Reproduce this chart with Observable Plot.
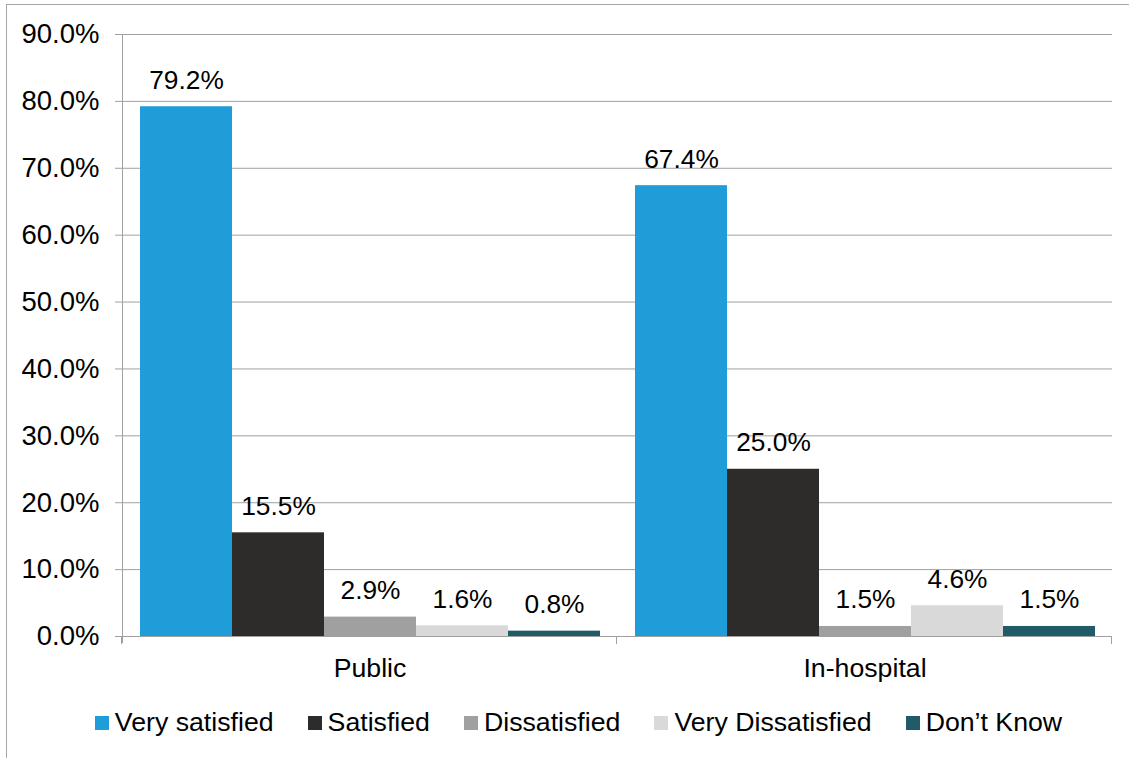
<!DOCTYPE html>
<html>
<head>
<meta charset="utf-8">
<script src="https://cdn.jsdelivr.net/npm/d3@7"></script>
<script src="https://cdn.jsdelivr.net/npm/@observablehq/plot@0.6"></script>
<style>
  html, body { margin: 0; padding: 0; background: #fff; }
  body { font-family: "Liberation Sans", Arial, sans-serif; }
  #wrap { position: relative; width: 1129px; height: 758px; overflow: hidden; }
  #border { position: absolute; left: 6px; top: 4px; width: 1200px; height: 800px;
            border-left: 1px solid #a6a6a6; border-top: 1px solid #a6a6a6; }
  #chart { position: absolute; left: 0; top: 0; }
  #legend { position: absolute; left: 14px; top: 707px; width: 1129px; display: flex;
            justify-content: center; align-items: center; gap: 34px;
            font-size: 26.7px; color: #000; }
  .item { display: flex; align-items: center; }
  .sw { width: 14px; height: 14px; margin-right: 6px; }
</style>
</head>
<body>
<div id="wrap">
  <div id="border"></div>
  <div id="chart"></div>
  <div id="legend"></div>
</div>
<script>
// Satisfaction survey results, by setting
const groups = ["Public", "In-hospital"];
const responses = ["Very satisfied", "Satisfied", "Dissatisfied", "Very Dissatisfied", "Don’t Know"];
const publicValues = [79.2, 15.5, 2.9, 1.6, 0.8];
const hospitalValues = [67.4, 25.0, 1.5, 4.6, 1.5];
const colors = ["#1f9dd9", "#2e2c2b", "#a0a0a0", "#d9d9d9", "#215a69"];
const yTicks = [0, 10, 20, 30, 40, 50, 60, 70, 80, 90];

const rows = [];
groups.forEach((g, gi) => {
  const vals = gi === 0 ? publicValues : hospitalValues;
  responses.forEach((r, i) => rows.push({group: g, response: r, value: vals[i]}));
});

const fmt = v => v.toFixed(1) + "%";

const plot = Plot.plot({
  width: 1129,
  height: 695,
  marginLeft: 121,
  marginRight: 17,
  marginTop: 34,
  marginBottom: 59,
  style: {fontFamily: "Liberation Sans, Arial, sans-serif", fontSize: "26px", color: "#000", background: "transparent"},
  fx: {domain: groups, padding: 0, label: null},
  x: {domain: responses, paddingInner: 0, paddingOuter: 0.187, axis: null},
  y: {domain: [0, 90], label: null},
  color: {domain: responses, range: colors},
  marks: [
    Plot.gridY(yTicks, {stroke: "#a0a0a0", strokeOpacity: 1, strokeWidth: 1}),
    Plot.axisY(yTicks, {tickFormat: d => d.toFixed(1) + "%", tickSize: 7, tickPadding: 16,
      stroke: "#a0a0a0", fontSize: 27.5, fill: "#000", label: null}),
    Plot.axisFx({anchor: "bottom", tickSize: 0, tickPadding: 22, fontSize: 26.7, fill: "#000", label: null}),
    Plot.barY(rows, {fx: "group", x: "response", y: "value", fill: "response", inset: 0}),
    Plot.text(rows, {fx: "group", x: "response", y: "value", text: d => fmt(d.value),
      lineAnchor: "bottom", dy: -18, fontSize: 26.3, fill: "#000"})
  ]
});
document.getElementById("chart").appendChild(plot);

// Axis lines and group divider ticks drawn from the plot's own scales
const svg = d3.select(plot);
const fx = plot.scale("fx");
const y = plot.scale("y");
const y0 = y.apply(0);
const left = fx.apply(groups[0]);
const right = fx.apply(groups[groups.length - 1]) + fx.bandwidth;
const g = svg.append("g").attr("stroke", "#a0a0a0").attr("stroke-width", 1);
g.append("line").attr("x1", left + 0.5).attr("x2", left + 0.5)
  .attr("y1", y.apply(90)).attr("y2", y0 + 7);
g.append("line").attr("x1", left).attr("x2", right).attr("y1", y0 + 0.5).attr("y2", y0 + 0.5);
const edges = groups.map(d => fx.apply(d)).concat([right]);
edges.forEach(xv => {
  g.append("line").attr("x1", Math.round(xv) - 0.5).attr("x2", Math.round(xv) - 0.5)
    .attr("y1", y0).attr("y2", y0 + 8);
});

// Legend
const legend = d3.select("#legend");
responses.forEach((r, i) => {
  const item = legend.append("div").attr("class", "item");
  item.append("div").attr("class", "sw").style("background", colors[i]);
  item.append("span").text(r);
});
</script>
</body>
</html>
